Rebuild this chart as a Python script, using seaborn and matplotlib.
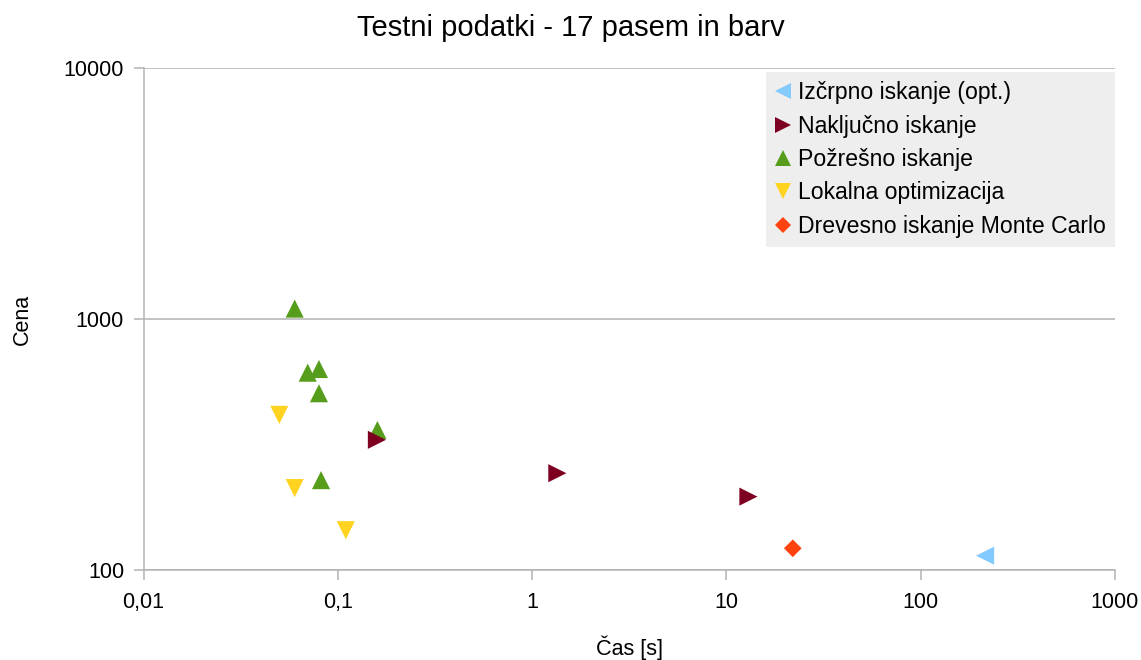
import numpy as np
import pandas as pd
import seaborn as sns
import matplotlib.pyplot as plt
from matplotlib.ticker import FixedLocator, NullLocator

# values (time in s, cost)
izcrpno_cas = [215]
izcrpno_cena = [114]
pozresno_cas = [0.06, 0.07, 0.08, 0.08, 0.16, 0.082]
pozresno_cena = [1100, 611, 632, 506, 361, 228]
lokalna_cas = [0.05, 0.06, 0.11]
lokalna_cena = [415, 212, 144]
nakljucno_cas = [0.159, 1.35, 13]
nakljucno_cena = [330, 243, 196]
mcts_cas = [22]
mcts_cena = [122]

metode = ["Izčrpno iskanje (opt.)", "Naključno iskanje", "Požrešno iskanje",
          "Lokalna optimizacija", "Drevesno iskanje Monte Carlo"]
barve = ["#83caff", "#7e0021", "#579d1c", "#ffd320", "#ff420e"]
oznake = ["<", ">", "^", "v", "D"]
x_ticks = [0.01, 0.1, 1, 10, 100, 1000]
x_labels = ["0,01", "0,1", "1", "10", "100", "1000"]
y_ticks = [100, 1000, 10000]

# draw order: red on top of green
rows = []
for name, xs, ys in [(metode[0], izcrpno_cas, izcrpno_cena),
                     (metode[3], lokalna_cas, lokalna_cena),
                     (metode[2], pozresno_cas, pozresno_cena),
                     (metode[1], nakljucno_cas, nakljucno_cena),
                     (metode[4], mcts_cas, mcts_cena)]:
    for x, y in zip(xs, ys):
        rows.append({"Čas [s]": x, "Cena": y, "Metoda": name})
df = pd.DataFrame(rows)

sns.set_style("white")
plt.rcParams['font.family'] = ['Liberation Sans', 'DejaVu Sans']
plt.rcParams['text.color'] = 'black'
plt.rcParams['axes.labelcolor'] = 'black'

fig = plt.figure(figsize=(11.41, 6.6), dpi=100)
ax = fig.add_axes([0.1258, 0.1364, 0.977 - 0.1258, 0.897 - 0.1364])

sizes = {m: (81 if mk == "D" else 170) for m, mk in zip(metode, oznake)}
sns.scatterplot(data=df, x="Čas [s]", y="Cena", hue="Metoda", style="Metoda",
                hue_order=metode, style_order=metode,
                palette=dict(zip(metode, barve)), markers=dict(zip(metode, oznake)),
                size="Metoda", sizes=sizes, size_order=metode,
                linewidth=0, ax=ax, zorder=3)

ax.set_xscale("log")
ax.set_yscale("log")
ax.set_xlim(0.01, 1000)
ax.set_ylim(100, 10000)
ax.xaxis.set_major_locator(FixedLocator(x_ticks))
ax.xaxis.set_minor_locator(NullLocator())
ax.set_xticklabels(x_labels)
ax.yaxis.set_major_locator(FixedLocator(y_ticks))
ax.yaxis.set_minor_locator(NullLocator())
ax.set_yticklabels([str(v) for v in y_ticks])

gc = "#b3b3b3"
ax.grid(axis="y", color=gc, linewidth=1.1)
ax.grid(axis="x", visible=False)
for s in ["top", "right"]:
    ax.spines[s].set_visible(False)
for s in ["left", "bottom"]:
    ax.spines[s].set_color(gc)
    ax.spines[s].set_linewidth(1.1)
ax.tick_params(axis="both", which="major", direction="out", length=7, width=1.1,
               color=gc, labelsize=15.5, labelcolor="black", left=True, bottom=True)
ax.tick_params(axis="x", pad=9)
ax.tick_params(axis="y", pad=7)

ax.set_xlabel("Čas [s]", fontsize=15.5, labelpad=16)
ax.set_ylabel("Cena", fontsize=15.5, labelpad=22)
fig.suptitle("Testni podatki - 17 pasem in barv", fontsize=21, y=0.979)

handles, labels = ax.get_legend_handles_labels()
hl = [(h, l) for h, l in zip(handles, labels) if l in metode]
leg = ax.legend([h for h, _ in hl], [l for _, l in hl],
                loc="upper right", bbox_to_anchor=(1115 / 1141, 1 - 72 / 660),
                bbox_transform=fig.transFigure, borderaxespad=0,
                fontsize=16.6, frameon=True, fancybox=False, markerscale=0.85,
                handlelength=0.7, handletextpad=0.3, labelspacing=0.45,
                borderpad=0.4)
leg.get_frame().set_facecolor("#eeeeee")
leg.get_frame().set_edgecolor("none")
leg.get_frame().set_alpha(1)

fig.savefig("out.png", dpi=100)
